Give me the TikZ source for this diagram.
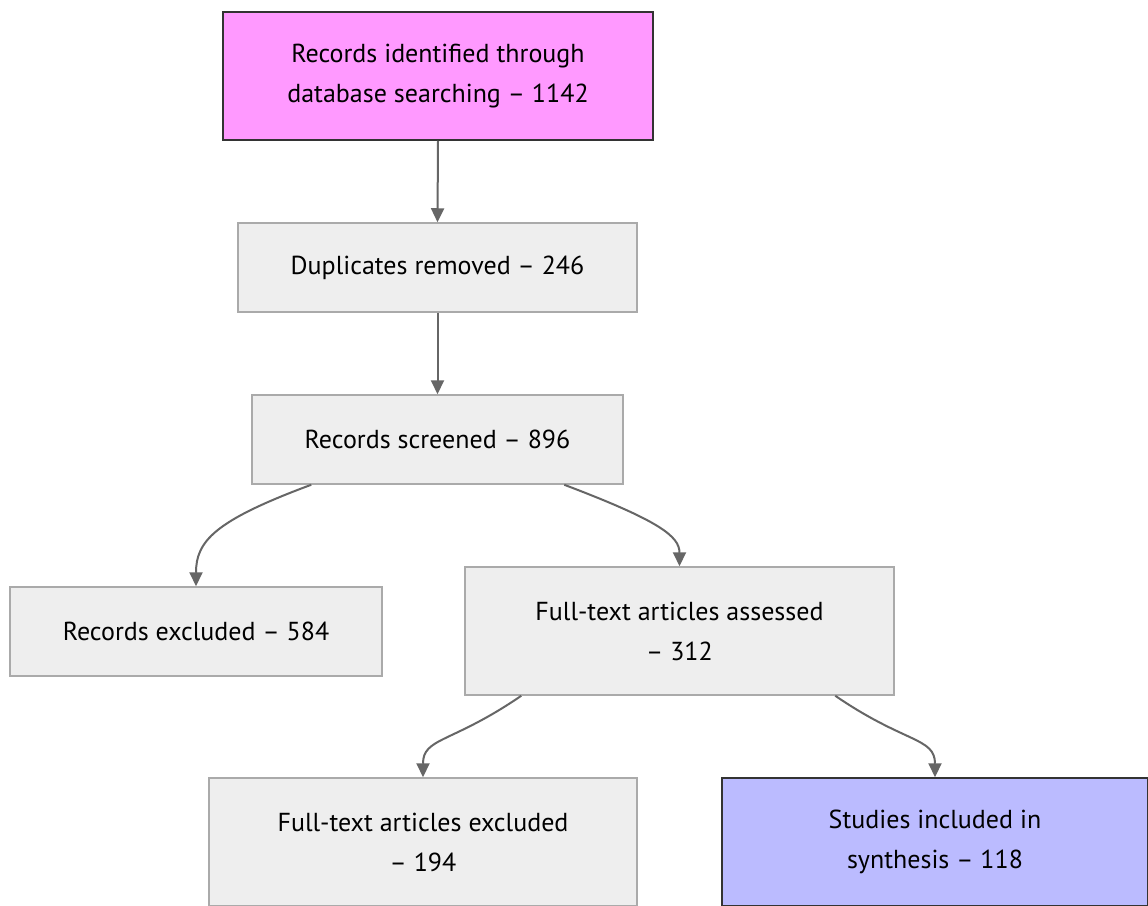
\documentclass[tikz,border=0pt]{standalone}
\usepackage{fontspec}
\setmainfont{PT Sans}
\usetikzlibrary{arrows.meta,calc}
\definecolor{pinkfill}{HTML}{FF99FF}
\definecolor{bluefill}{HTML}{BBBBFF}
\definecolor{grayfill}{HTML}{EEEEEE}
\definecolor{grayline}{HTML}{AAAAAA}
\definecolor{darkline}{HTML}{333333}
\definecolor{arrowcol}{HTML}{666666}
\tikzset{
  box/.style={rectangle, draw=grayline, fill=grayfill, line width=1.5pt,
    align=center, inner sep=0pt, font=\fontsize{26}{40}\selectfont, text=black},
  hibox/.style={box, draw=darkline},
  arr/.style={draw=arrowcol, line width=2pt, -{Triangle[length=14pt,width=13pt]}},
}
\begin{document}
\begin{tikzpicture}[x=1pt,y=-1pt]
\useasboundingbox (0,0) rectangle (1148,905);
\fill[white] (0,0) rectangle (1148,905);
\node[hibox, fill=pinkfill, minimum width=430pt, minimum height=128pt] (top) at (438,76)
  {Records identified through\\database searching – 1142};
\node[box, minimum width=399pt, minimum height=89pt] (dup) at (437.5,267.5)
  {Duplicates removed – 246};
\node[box, minimum width=371pt, minimum height=89pt] (scr) at (437.5,439.5)
  {Records screened – 896};
\node[box, minimum width=372pt, minimum height=89pt] (rexc) at (196,631.5)
  {Records excluded – 584};
\node[box, minimum width=429pt, minimum height=128pt] (fta) at (679.5,631)
  {Full-text articles assessed\\– 312};
\node[box, minimum width=428pt, minimum height=128pt] (ftx) at (423,842)
  {Full-text articles excluded\\– 194};
\node[hibox, fill=bluefill, minimum width=426pt, minimum height=128pt] (stu) at (935,842)
  {Studies included in\\synthesis – 118};

\draw[arr] (top.south) -- (dup.north);
\draw[arr] (dup.south) -- (scr.north);

\coordinate (s1) at ($(scr.south west)+(60,0)$);
\coordinate (s2) at ($(scr.south west)+(313,0)$);
\coordinate (f1) at ($(fta.south west)+(57,0)$);
\coordinate (f2) at ($(fta.south west)+(371,0)$);

\draw[arr] (s1) .. controls ($(s1)+(-97,36)$) and ($(rexc.north)+(0,-45)$) .. (rexc.north);
\draw[arr] (s2) .. controls ($(s2)+(95,36)$) and ($(fta.north)+(0,-30)$) .. (fta.north);
\draw[arr] (f1) .. controls ($(f1)+(-70,48)$) and ($(ftx.north)+(0,-40)$) .. (ftx.north);
\draw[arr] (f2) .. controls ($(f2)+(70,48)$) and ($(stu.north)+(0,-40)$) .. (stu.north);
\end{tikzpicture}
\end{document}
